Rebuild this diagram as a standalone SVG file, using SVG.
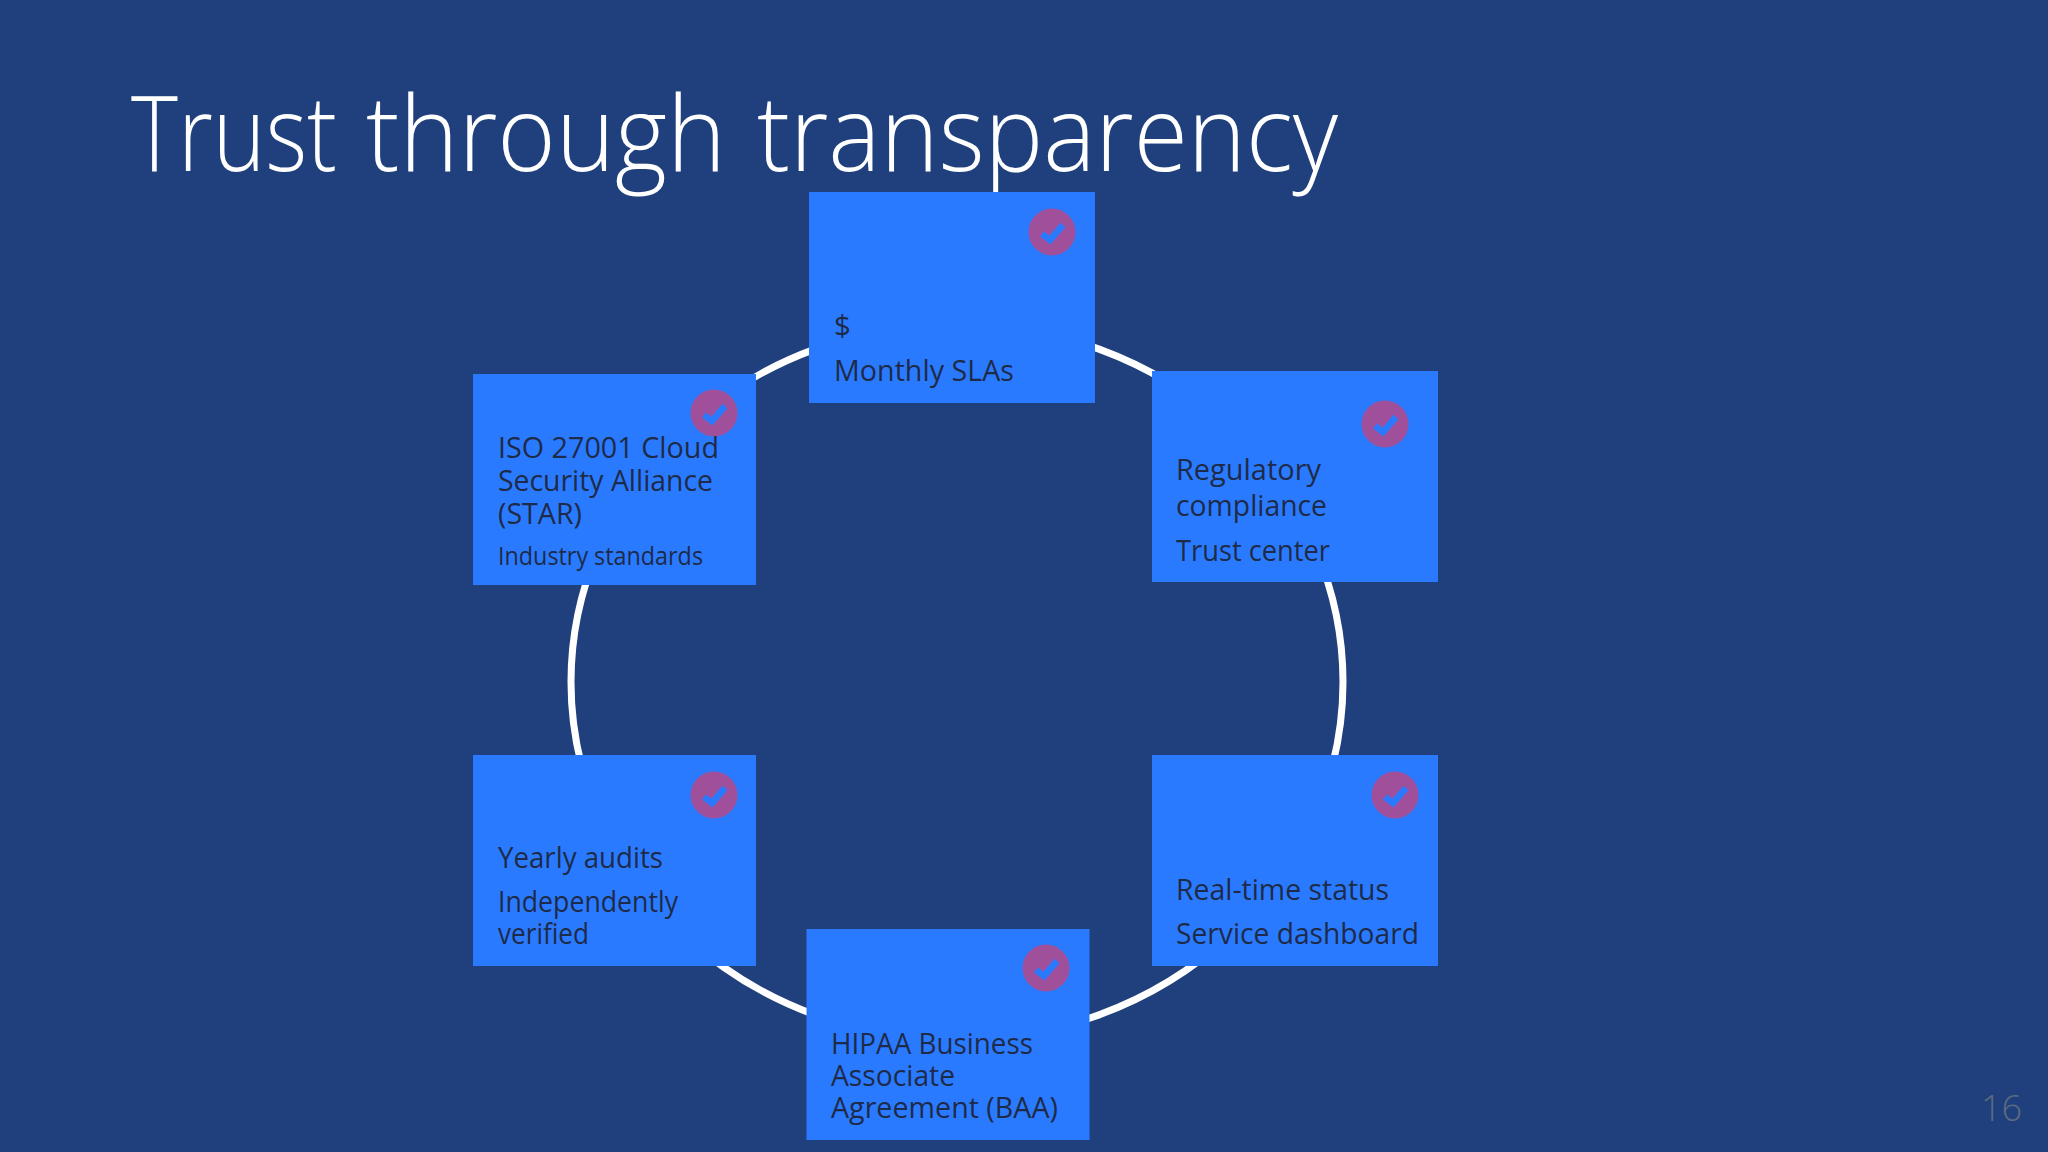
<svg xmlns="http://www.w3.org/2000/svg" width="2048" height="1152" viewBox="0 0 2048 1152">
<style>
.box{fill:#2a7aff}
.badge{fill:#a0509b}
.chk{fill:none;stroke:#2a7aff;stroke-width:6.5}
.t{font-family:"Open Sans","Noto Sans","Liberation Sans",sans-serif;font-size:29.5px;fill:#1e2b48}
.s{font-size:25px}
</style>
<rect width="2048" height="1152" fill="#1f407c"/>
<text x="131" y="171" font-family="'Open Sans','Noto Sans',sans-serif" font-weight="300" font-size="106" fill="#fff"><tspan x="131" textLength="206" lengthAdjust="spacingAndGlyphs">Trust</tspan> <tspan x="366" textLength="360" lengthAdjust="spacingAndGlyphs">through</tspan> <tspan x="757" textLength="581" lengthAdjust="spacingAndGlyphs">transparency</tspan></text>
<g id="connectors"><ellipse cx="957" cy="682" rx="386" ry="358" fill="none" stroke="#fff" stroke-width="7"/></g>
<defs><g id="badge"><circle r="23.5" class="badge"/><path class="chk" d="M-10 2L-2 8L11-7"/></g></defs>
<g id="n-top"><rect class="box" x="809" y="192" width="286" height="211"/><use href="#badge" x="1052" y="232"/><text class="t" x="834" y="336">$</text><text class="t" x="834" y="381" textLength="180" lengthAdjust="spacingAndGlyphs">Monthly SLAs</text></g>
<g id="n-right-upper"><rect class="box" x="1152" y="371" width="286" height="211"/><use href="#badge" x="1385" y="424"/><text class="t" x="1176" y="480" textLength="145" lengthAdjust="spacingAndGlyphs">Regulatory</text><text class="t" x="1176" y="516" textLength="151" lengthAdjust="spacingAndGlyphs">compliance</text><text class="t" x="1176" y="561" textLength="154" lengthAdjust="spacingAndGlyphs">Trust center</text></g>
<g id="n-right-lower"><rect class="box" x="1152" y="755" width="286" height="211"/><use href="#badge" x="1395" y="795"/><text class="t" x="1176" y="900" textLength="213" lengthAdjust="spacingAndGlyphs">Real-time status</text><text class="t" x="1176" y="944" textLength="243" lengthAdjust="spacingAndGlyphs">Service dashboard</text></g>
<g id="n-bottom"><rect class="box" x="806.5" y="929" width="283" height="211"/><use href="#badge" x="1046" y="968"/><text class="t" x="831" y="1054" textLength="202" lengthAdjust="spacingAndGlyphs">HIPAA Business</text><text class="t" x="831" y="1086" textLength="124" lengthAdjust="spacingAndGlyphs">Associate</text><text class="t" x="831" y="1118" textLength="227" lengthAdjust="spacingAndGlyphs">Agreement (BAA)</text></g>
<g id="n-left-lower"><rect class="box" x="473" y="755" width="283" height="211"/><use href="#badge" x="714" y="795"/><text class="t" x="498" y="868" textLength="165" lengthAdjust="spacingAndGlyphs">Yearly audits</text><text class="t" x="498" y="912" textLength="180" lengthAdjust="spacingAndGlyphs">Independently</text><text class="t" x="498" y="944" textLength="91" lengthAdjust="spacingAndGlyphs">verified</text></g>
<g id="n-left-upper"><rect class="box" x="473" y="374" width="283" height="211"/><use href="#badge" x="714" y="413"/><text class="t" x="498" y="458" textLength="221" lengthAdjust="spacingAndGlyphs">ISO 27001 Cloud</text><text class="t" x="498" y="491" textLength="215" lengthAdjust="spacingAndGlyphs">Security Alliance</text><text class="t" x="498" y="524" textLength="84" lengthAdjust="spacingAndGlyphs">(STAR)</text><text class="t s" x="498" y="565" textLength="205" lengthAdjust="spacingAndGlyphs">Industry standards</text></g>
<text x="1981" y="1121" font-family="'Open Sans',sans-serif" font-weight="300" font-size="36" fill="#5d6b80">16</text>
</svg>
